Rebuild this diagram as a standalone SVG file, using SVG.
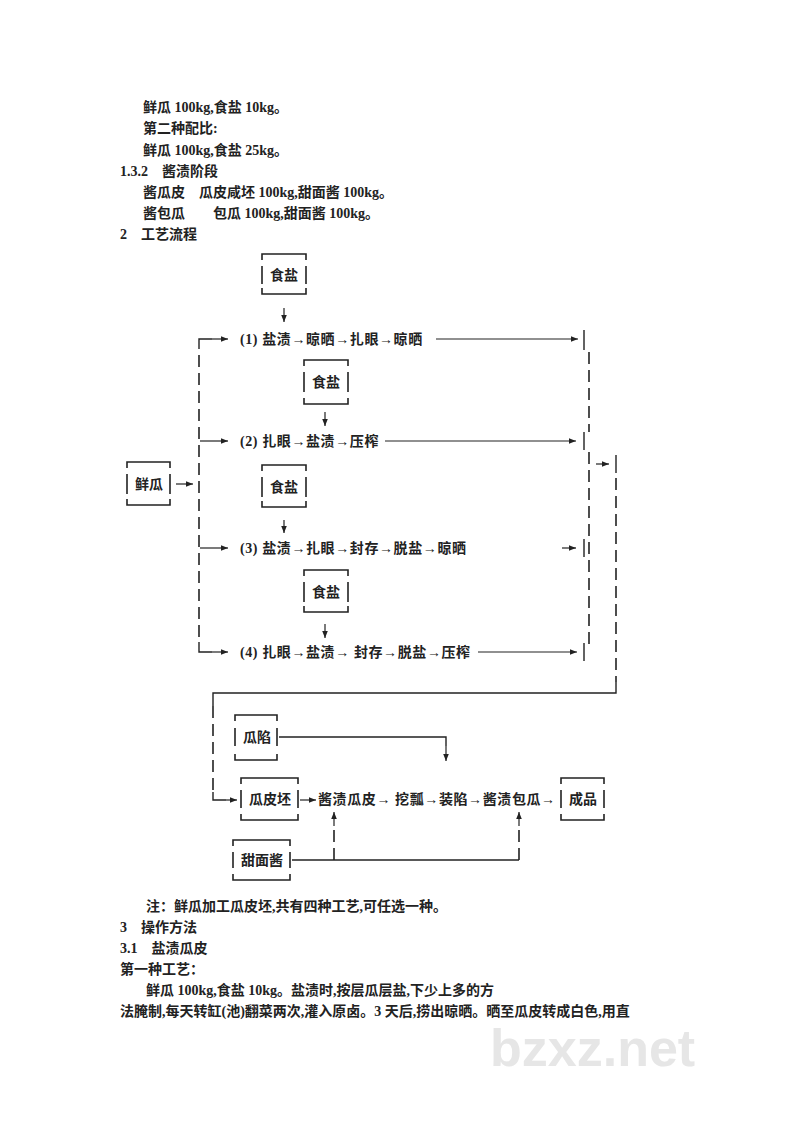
<svg xmlns="http://www.w3.org/2000/svg" width="800" height="1131" viewBox="0 0 800 1131">
<defs>
<marker id="ah" viewBox="0 0 10 10" refX="10" refY="5" markerWidth="6" markerHeight="6" orient="auto"><path d="M0,1 L10,5 L0,9 z" fill="#222"/></marker>
</defs>
<style>
text{font-family:"Liberation Serif","Noto Sans CJK SC",serif;font-size:14px;font-weight:bold;fill:#222}
.f{font-family:"Liberation Serif","Noto Sans CJK SC",serif;letter-spacing:0.6px}
.b{fill:none;stroke:#222;stroke-width:1.6}
.l{fill:none;stroke:#222;stroke-width:1.4}
.d{fill:none;stroke:#222;stroke-width:1.6;stroke-dasharray:12,6}
.a{fill:none;stroke:#222;stroke-width:1.2;marker-end:url(#ah)}
</style>
<rect width="800" height="1131" fill="#fff"/>
<g id="body-top">
<text x="143" y="112">鲜瓜 100kg,食盐 10kg。</text>
<text x="143" y="133">第二种配比:</text>
<text x="143" y="155">鲜瓜 100kg,食盐 25kg。</text>
<text x="120" y="176">1.3.2　酱渍阶段</text>
<text x="143" y="197">酱瓜皮　瓜皮咸坯 100kg,甜面酱 100kg。</text>
<text x="143" y="218">酱包瓜　　包瓜 100kg,甜面酱 100kg。</text>
<text x="120" y="239">2　工艺流程</text>
</g>
<g id="salt1"><path class="b" d="M262,260V254H306V260M262,288V294H306V288M262,266V284M306,266V284"/><text x="270" y="280">食盐</text></g>
<g id="salt2"><path class="b" d="M304,366V360H348V366M304,398V404H348V398M304,372V392M348,372V392"/><text x="312" y="387">食盐</text></g>
<g id="xiangua"><path class="b" d="M127,468V462H170V468M127,499V505H170V499M127,474V494M170,474V494"/><text x="135" y="489">鲜瓜</text></g>
<g id="salt3"><path class="b" d="M262,471V465H306V471M262,501V507H306V501M262,477V497M306,477V497"/><text x="270" y="492">食盐</text></g>
<g id="salt4"><path class="b" d="M304,576V570H348V576M304,606V612H348V606M304,582V602M348,582V602"/><text x="312" y="597">食盐</text></g>
<g id="row1"><text class="f" x="240" y="344">(1) 盐渍→晾晒→扎眼→晾晒</text></g>
<g id="row2"><text class="f" x="240" y="446">(2) 扎眼→盐渍→压榨</text></g>
<g id="row3"><text class="f" x="240" y="553">(3) 盐渍→扎眼→封存→脱盐→晾晒</text></g>
<g id="row4"><text class="f" x="240" y="657">(4) 扎眼→盐渍→ 封存→脱盐→压榨</text></g>
<g id="guaxian"><path class="b" d="M235,721V715H277V721M235,754V760H277V754M235,728V746M277,728V746"/><text x="243" y="742">瓜陷</text></g>
<g id="guapipi"><path class="b" d="M241,784V778H298V784M241,814V820H298V814M241,790V808M298,790V808"/><text x="249" y="804">瓜皮坯</text></g>
<g id="chain"><text class="f" x="318" y="804">酱渍瓜皮→ 挖瓢→装陷→酱渍包瓜→</text></g>
<g id="chengpin"><path class="b" d="M561,784V778H604V784M561,814V820H604V814M561,790V808M604,790V808"/><text x="569" y="804">成品</text></g>
<g id="tianmianjiang"><path class="b" d="M233,846V840H290V846M233,874V880H290V874M233,852V868M290,852V868"/><text x="241" y="865">甜面酱</text></g>
<g id="connectors">
<path class="a" d="M284,308V322"/>
<path class="a" d="M325,412V426"/>
<path class="a" d="M284,520V533"/>
<path class="a" d="M325,624V638"/>
<path class="a" d="M176,484H193"/>
<path class="l" d="M199,349V339H212"/><path class="a" d="M212,339H228"/>
<path class="a" d="M200,441H228"/>
<path class="a" d="M200,548H228"/>
<path class="l" d="M199,642V652H212"/><path class="a" d="M212,652H228"/>
<path class="d" d="M199,355V640"/>
<path class="a" d="M436,339H578"/>
<path class="a" d="M385,441H576"/>
<path class="a" d="M562,548H576"/>
<path class="a" d="M478,652H577"/>
<path class="l" d="M584,330V350M584,432V450M584,539V557M584,643V661"/>
<path class="d" d="M589,352V432M589,452V650"/>
<path class="a" d="M596,464H609"/>
<path class="l" d="M616,455V473"/>
<path class="d" d="M616,478V682"/>
<path class="l" d="M616,682V693H213V706"/>
<path class="d" d="M213,706V792"/>
<path class="l" d="M213,792V800H226"/><path class="a" d="M226,800H237"/>
<path class="l" d="M279,737H446V746"/><path class="a" d="M446,746V761"/>
<path class="a" d="M300,800H316"/>
<path class="l" d="M292,860H519"/>
<path class="d" d="M334,860V826M519,860V826"/>
<path class="a" d="M334,826V812"/><path class="a" d="M519,826V812"/>
</g>
<g id="body-bottom">
<text x="146" y="911">注：鲜瓜加工瓜皮坯,共有四种工艺,可任选一种。</text>
<text x="120" y="932">3　操作方法</text>
<text x="120" y="953">3.1　盐渍瓜皮</text>
<text x="120" y="974">第一种工艺：</text>
<text x="146" y="995">鲜瓜 100kg,食盐 10kg。盐渍时,按层瓜层盐,下少上多的方</text>
<text x="120" y="1016">法腌制,每天转缸(池)翻菜两次,灌入原卤。3 天后,捞出晾晒。晒至瓜皮转成白色,用直</text>
<text x="490" y="1066" style="font-family:'Liberation Sans',sans-serif;font-size:52px;fill:#e6e6e6">bzxz.net</text>
</g>
</svg>
